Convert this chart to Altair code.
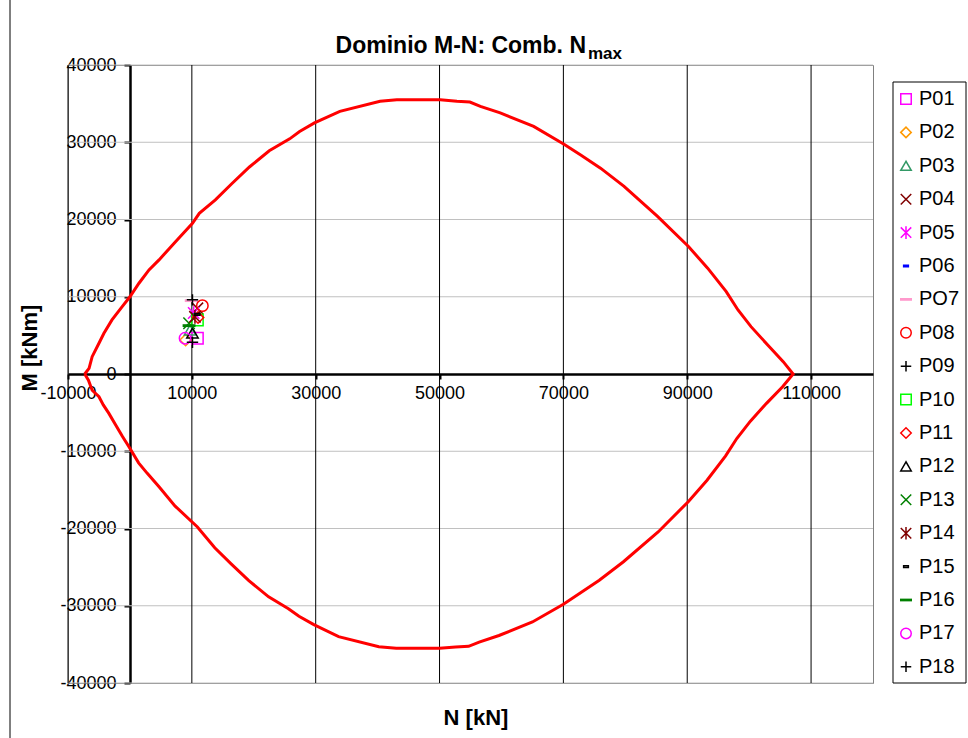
import altair as alt
import pandas as pd

FONT = "Liberation Sans"

# M-N interaction domain: upper branch (left -> right), N [kN], M [kNm]
upper_n = [-7300, -6600, -6100, -5000, -4200, -2900, -1250, 0, 1460, 3080, 4700,
           7400, 10100, 11200, 13800, 16400, 19300, 22500, 25800, 27400, 29800,
           33900, 40400, 43100, 50100, 52800, 54900, 56600, 59800, 65200, 70100,
           72800, 76000, 79800, 85200, 90200, 93300, 96300, 98200, 100300, 103000,
           105500, 107100]
upper_m = [0, 740, 2240, 3980, 5270, 7000, 8720, 10000, 11750, 13470, 14770,
           17150, 19500, 20800, 22540, 24600, 26800, 28900, 30440, 31400, 32500,
           34000, 35300, 35500, 35500, 35300, 35200, 34650, 33800, 32050, 29750,
           28360, 26650, 24300, 20400, 16500, 13700, 10660, 8290, 6130, 3760,
           1600, 0]

# lower branch (right -> left)
lower_n = [105400, 102800, 100200, 98000, 96200, 93200, 90200, 85300, 79700,
           75800, 72600, 70000, 65000, 59600, 56400, 54700, 52600, 50000, 43000,
           40200, 33700, 29700, 27300, 25600, 22400, 19200, 16300, 13700, 10900,
           7300, 4700, 2800, 1400, -160, -1200, -2300, -3400, -4300, -5000, -6100,
           -6700, -7300]
lower_m = [-1650, -3800, -6100, -8350, -10600, -13750, -16500, -20450, -24300,
           -26700, -28400, -29800, -32100, -33850, -34700, -35250, -35350, -35500,
           -35500, -35300, -34000, -32450, -31350, -30400, -28850, -26750, -24550,
           -22500, -19800, -17100, -14600, -12860, -11500, -9420, -8100, -6600,
           -5100, -4000, -2940, -2100, -800, 0]

# Design actions for each pier (Comb. Nmax)
pier_names = ["P01", "P02", "P03", "P04", "P05", "P06", "PO7", "P08", "P09",
              "P10", "P11", "P12", "P13", "P14", "P15", "P16", "P17", "P18"]
pier_n = [10900, 9000, 9700, 10900, 10300, 10600, 9900, 11700, 10100,
          10900, 11000, 10100, 9550, 10500, 10900, 9550, 8900, 10100]
pier_m = [4620, 4400, 5700, 8500, 7900, 7700, 9500, 8850, 9600,
          7000, 7300, 5300, 6570, 7400, 7730, 6260, 4620, 4100]

pier_colors = ["#FF00FF", "#FF9900", "#339966", "#800000", "#FF00FF", "#0000FF",
               "#FF99CC", "#FF0000", "#000000", "#00FF00", "#FF0000", "#000000",
               "#008000", "#800000", "#000000", "#008000", "#FF00FF", "#000000"]

X_SHAPE = "M-1,-1L1,1M-1,1L1,-1"
STAR_SHAPE = "M-1,-1L1,1M-1,1L1,-1M0,-1.2L0,1.2"
PLUS_SHAPE = "M-1,0L1,0M0,-1L0,1"
SHORT_DASH = "M-0.45,-0.15L0.45,-0.15L0.45,0.15L-0.45,0.15Z"
LONG_DASH = "M-1,-0.12L1,-0.12L1,0.12L-1,0.12Z"
pier_shapes = ["square", "diamond", "triangle-up", X_SHAPE, STAR_SHAPE, SHORT_DASH,
               LONG_DASH, "circle", PLUS_SHAPE, "square", "diamond", "triangle-up",
               X_SHAPE, STAR_SHAPE, SHORT_DASH, LONG_DASH, "circle", PLUS_SHAPE]

x_ticks = [-10000, 10000, 30000, 50000, 70000, 90000, 110000]
y_ticks = [-40000, -30000, -20000, -10000, 0, 10000, 20000, 30000, 40000]
y_grid = [-40000, -30000, -20000, -10000, 10000, 20000, 30000, 40000]

boundary = pd.DataFrame({"N": upper_n + lower_n, "M": upper_m + lower_m})
boundary["seq"] = range(len(boundary))

piers = pd.DataFrame({"pier": pier_names, "N": pier_n, "M": pier_m})
piers["seq"] = range(len(piers))

W, H = 805, 618
x_scale = alt.Scale(domain=[-10000, 120000], nice=False, zero=False)
y_scale = alt.Scale(domain=[-40000, 40000], nice=False, zero=False)

# plain integers with an ASCII hyphen for negative values
PLAIN_LABEL = "'' + datum.value"

# Axes crossing at the origin (N = 0, M = 0)
x_axis = alt.Axis(values=x_ticks, labelExpr=PLAIN_LABEL, title=None, grid=False,
                  offset=-309, domainColor="black", domainWidth=2.5,
                  tickColor="black", tickWidth=2, tickSize=5, labelFont=FONT,
                  labelFontSize=18, labelColor="black", labelPadding=5,
                  labelFlush=False, labelOverlap=False, labelBound=False)
y_axis = alt.Axis(values=y_ticks, labelExpr=PLAIN_LABEL, title=None, grid=False,
                  offset=-62, domainColor="black", domainWidth=2.5,
                  tickColor="black", tickWidth=2, tickSize=6, labelFont=FONT,
                  labelFontSize=18, labelColor="black", labelPadding=8,
                  labelFlush=False, labelOverlap=False, labelBound=False)

hgrid = alt.Chart(pd.DataFrame({"M": y_grid})).mark_rule(
    color="#c0c0c0", strokeWidth=1
).encode(y=alt.Y("M:Q", scale=y_scale, axis=y_axis))

vgrid = alt.Chart(pd.DataFrame({"N": x_ticks})).mark_rule(
    color="black", strokeWidth=1
).encode(x=alt.X("N:Q", scale=x_scale, axis=x_axis))

curve = alt.Chart(boundary).mark_line(color="#FF0000", strokeWidth=3).encode(
    x=alt.X("N:Q", scale=x_scale, axis=x_axis),
    y=alt.Y("M:Q", scale=y_scale, axis=y_axis),
    order=alt.Order("seq:Q"),
)

legend = alt.Legend(title=None, orient="none", legendX=828, legendY=24,
                    labelFont=FONT, labelFontSize=20, labelColor="black",
                    symbolSize=110, symbolStrokeWidth=1.5, rowPadding=13.4,
                    padding=0, labelOffset=3)

points = alt.Chart(piers).mark_point(filled=False, size=130, strokeWidth=1.5,
                                     opacity=1).encode(
    x=alt.X("N:Q", scale=x_scale, axis=x_axis),
    y=alt.Y("M:Q", scale=y_scale, axis=y_axis),
    color=alt.Color("pier:N", scale=alt.Scale(domain=pier_names, range=pier_colors),
                    legend=legend),
    shape=alt.Shape("pier:N", scale=alt.Scale(domain=pier_names, range=pier_shapes),
                    legend=legend),
    order=alt.Order("seq:Q"),
)

one = pd.DataFrame({"k": [0]})

legend_box = alt.Chart(one).mark_rect(fill="transparent", stroke="black",
                                      strokeWidth=1).encode(
    x=alt.value(825), x2=alt.value(898), y=alt.value(17), y2=alt.value(618))

frame_left = alt.Chart(one).mark_rule(color="black", strokeWidth=1).encode(
    x=alt.value(-58), y=alt.value(-65), y2=alt.value(673))

title_main = alt.Chart(pd.DataFrame({"t": ["Dominio M-N: Comb. N"]})).mark_text(
    font=FONT, fontSize=23, fontWeight="bold", align="right", baseline="alphabetic",
    color="black").encode(x=alt.value(518), y=alt.value(-12), text="t:N")

title_sub = alt.Chart(pd.DataFrame({"t": ["max"]})).mark_text(
    font=FONT, fontSize=17, fontWeight="bold", align="left", baseline="alphabetic",
    color="black").encode(x=alt.value(520), y=alt.value(-6), text="t:N")

x_title = alt.Chart(pd.DataFrame({"t": ["N [kN]"]})).mark_text(
    font=FONT, fontSize=22, fontWeight="bold", align="center", baseline="middle",
    color="black").encode(x=alt.value(408), y=alt.value(653), text="t:N")

y_title = alt.Chart(pd.DataFrame({"t": ["M [kNm]"]})).mark_text(
    font=FONT, fontSize=22, fontWeight="bold", align="center", baseline="middle",
    angle=270, color="black").encode(x=alt.value(-38), y=alt.value(283), text="t:N")

chart = alt.layer(
    hgrid, vgrid, curve, points, legend_box, frame_left,
    title_main, title_sub, x_title, y_title
).properties(
    width=W, height=H,
    autosize=alt.AutoSizeParams(type="none"),
    padding={"left": 68, "top": 65, "right": 95, "bottom": 55},
    background="white",
).configure_view(stroke="#808080", strokeWidth=1)

chart.save("out.html", embed_options={"renderer": "svg", "actions": False})
